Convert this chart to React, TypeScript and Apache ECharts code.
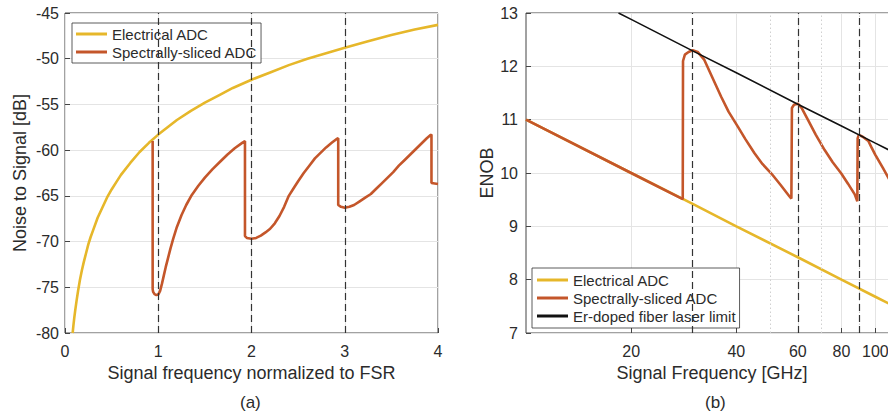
import React, { useEffect, useRef } from 'react';
import * as echarts from 'echarts';

// ---------- Panel (a): noise to signal vs normalized frequency ----------
const electricalA: [number, number][] = [
  [0.082, -80.0], [0.09, -79.2], [0.1, -78.3], [0.11, -77.5], [0.125, -76.4], [0.14, -75.4],
  [0.16, -74.2], [0.18, -73.2], [0.2, -72.3], [0.225, -71.3], [0.25, -70.3], [0.275, -69.5],
  [0.3, -68.8], [0.35, -67.4], [0.4, -66.3], [0.45, -65.2], [0.5, -64.3], [0.55, -63.5],
  [0.6, -62.7], [0.7, -61.4], [0.8, -60.2], [0.9, -59.2], [1.0, -58.3], [1.1, -57.5],
  [1.2, -56.7], [1.35, -55.7], [1.5, -54.8], [1.65, -54.0], [1.8, -53.2], [2.0, -52.3],
  [2.2, -51.5], [2.4, -50.7], [2.6, -50.0], [2.8, -49.4], [3.0, -48.8], [3.25, -48.1],
  [3.5, -47.4], [3.75, -46.8], [4.0, -46.3],
];
const slicedA: [number, number][] = [
  [0.94, -59.0], [0.94, -75.2], [0.945, -75.5], [0.96, -75.75], [0.98, -75.85], [1.0, -75.8],
  [1.02, -75.4], [1.04, -74.6], [1.06, -73.7], [1.08, -72.8], [1.10, -72.0], [1.13, -70.8],
  [1.16, -69.7], [1.20, -68.4], [1.25, -67.1], [1.30, -66.0], [1.36, -64.9], [1.43, -63.9],
  [1.50, -63.0], [1.58, -62.1], [1.66, -61.3], [1.74, -60.5], [1.82, -59.8], [1.90, -59.2],
  [1.93, -59.0], [1.93, -69.4], [1.95, -69.6], [2.0, -69.7], [2.05, -69.6], [2.10, -69.35],
  [2.15, -69.0], [2.20, -68.6], [2.25, -68.0], [2.30, -67.2], [2.35, -66.2], [2.40, -65.0],
  [2.45, -64.2], [2.50, -63.4], [2.56, -62.5], [2.62, -61.7], [2.68, -60.9], [2.74, -60.3],
  [2.80, -59.7], [2.86, -59.2], [2.91, -58.8], [2.93, -58.7], [2.93, -66.0], [2.96, -66.2],
  [3.0, -66.3], [3.05, -66.2], [3.10, -66.0], [3.16, -65.6], [3.22, -65.2], [3.28, -64.8],
  [3.34, -64.2], [3.40, -63.6], [3.46, -63.0], [3.52, -62.4], [3.58, -61.7], [3.64, -61.1],
  [3.70, -60.5], [3.76, -59.9], [3.82, -59.3], [3.88, -58.7], [3.92, -58.35], [3.93, -58.3],
  [3.93, -63.6], [4.0, -63.7],
];
const fsrMarksA = [1, 2, 3];

// ---------- Panel (b): ENOB vs signal frequency (GHz, log) ----------
const electricalB: [number, number][] = [
  [10, 11.0], [20, 10.0], [30, 9.42], [40, 9.0], [60, 8.42], [80, 8.0], [100, 7.68], [120, 7.42], [133, 7.27],
];
const slicedB: [number, number][] = [
  [10, 11.0], [20, 10.0], [28.1, 9.51], [28.15, 12.1], [28.5, 12.22], [29.2, 12.27],
  [30, 12.3], [31, 12.27], [32.4, 12.12], [34, 11.82], [36.2, 11.43], [38, 11.15],
  [40.4, 10.87], [42.5, 10.63], [45.1, 10.37], [47.5, 10.17], [50.4, 9.99], [53.5, 9.78],
  [56.8, 9.56], [57.5, 9.52], [57.7, 11.22], [58.5, 11.28], [60, 11.3], [61.5, 11.22],
  [64.2, 10.99], [67.5, 10.72], [71.6, 10.43], [75.5, 10.2], [79.9, 9.99], [83.5, 9.8],
  [87.3, 9.6], [88.8, 9.47], [89, 10.65], [89.5, 10.7], [90, 10.71], [92, 10.68],
  [95.5, 10.6], [97.5, 10.48], [100, 10.34], [105, 10.1], [109.8, 9.87], [115, 9.6], [120, 9.35],
];
const laserLimitB: [number, number][] = [
  [18.4, 13.0], [20, 12.88], [30, 12.29], [40, 11.88], [60, 11.29], [80, 10.88], [100, 10.56], [120, 10.3], [133, 10.15],
];
const fsrMarksB = [30, 60, 90];
const freqTickLabels = [20, 40, 60, 80, 100];
const freqMinorGrid = [50, 70, 90];

const names = ['Electrical ADC', 'Spectrally-sliced ADC', 'Er-doped fiber laser limit'];
const FONT = '"Liberation Sans", Arial, Helvetica, sans-serif';
const YELLOW = '#E6B72A';
const ORANGE = '#C4562A';
const TXT = '#2b2b2b';

export default function App() {
  const ref = useRef<HTMLDivElement>(null);
  useEffect(() => {
    if (!ref.current) return;
    const chart = echarts.init(ref.current, undefined, { renderer: 'svg' });
    const axisLabel = { color: TXT, fontSize: 16, fontFamily: FONT };
    const nameStyle = { color: TXT, fontSize: 18, fontFamily: FONT };
    const splitLine = { show: true, lineStyle: { color: '#e4e4e4', width: 1 } };
    const axisTick = { show: true, inside: true, length: 5, lineStyle: { color: '#444' } };
    const dashLine = (xIdx: number, vals: number[]) => ({
      type: 'line', xAxisIndex: xIdx, yAxisIndex: xIdx, data: [], z: 1, silent: true,
      markLine: {
        silent: true, symbol: ['none', 'none'], label: { show: false },
        lineStyle: { type: [7, 4], color: '#333', width: 1.2 },
        emphasis: { disabled: true },
        data: vals.map((v) => ({ xAxis: v })),
      },
    });
    const legendBase = {
      orient: 'vertical', itemWidth: 31, itemHeight: 3, itemGap: 2, icon: 'rect',
      backgroundColor: '#fff', borderColor: '#333', borderWidth: 0.8, borderRadius: 0,
      textStyle: { color: TXT, fontSize: 15, fontFamily: FONT, lineHeight: 16 },
      selectedMode: false,
    };
    chart.setOption({
      animation: false,
      textStyle: { fontFamily: FONT },
      grid: [
        { left: 65, top: 13, width: 373, height: 320, show: true, borderColor: '#444', borderWidth: 1, backgroundColor: 'transparent', outerBoundsMode: 'none' },
        { left: 526, top: 13, width: 393, height: 320, show: true, borderColor: '#444', borderWidth: 1, backgroundColor: 'transparent', outerBoundsMode: 'none' },
      ],
      legend: [
        { ...legendBase, left: 72, top: 23, padding: [3, 4, 3, 4], data: names.slice(0, 2) },
        { ...legendBase, left: 532, top: 268, padding: [4, 4, 4, 5], data: names },
      ],
      xAxis: [
        {
          type: 'value', gridIndex: 0, min: 0, max: 4, interval: 1,
          name: 'Signal frequency normalized to FSR', nameLocation: 'middle', nameGap: 29, nameTextStyle: nameStyle,
          axisLine: { show: false }, axisTick, axisLabel: { ...axisLabel, margin: 10 }, splitLine,
        },
        {
          type: 'log', logBase: 10, gridIndex: 1, min: 10, max: 133.35,
          name: 'Signal Frequency [GHz]', nameLocation: 'middle', nameGap: 29,
          nameTextStyle: { ...nameStyle, padding: [0, 21, 0, 0] },
          axisLine: { show: false },
          axisTick: { ...axisTick, customValues: freqTickLabels },
          axisLabel: { ...axisLabel, margin: 10, customValues: freqTickLabels, formatter: (v: number) => String(Math.round(v)) },
          splitLine, minorTick: { show: false }, minorSplitLine: { show: false },
        },
      ],
      yAxis: [
        {
          type: 'value', gridIndex: 0, min: -80, max: -45, interval: 5,
          name: 'Noise to Signal [dB]', nameLocation: 'middle', nameGap: 36, nameTextStyle: nameStyle,
          axisLine: { show: false }, axisTick, axisLabel: { ...axisLabel, margin: 6 }, splitLine,
        },
        {
          type: 'value', gridIndex: 1, min: 7, max: 13, interval: 1,
          name: 'ENOB', nameLocation: 'middle', nameGap: 30, nameTextStyle: nameStyle,
          axisLine: { show: false }, axisTick, axisLabel: { ...axisLabel, margin: 8 }, splitLine,
        },
      ],
      series: [
        dashLine(0, fsrMarksA),
        {
          type: 'line', xAxisIndex: 1, yAxisIndex: 1, data: [], z: 1, silent: true,
          markLine: {
            silent: true, symbol: ['none', 'none'], label: { show: false },
            lineStyle: { type: [1.5, 2.5], color: '#d0d0d0', width: 1 },
            emphasis: { disabled: true },
            data: freqMinorGrid.map((v) => ({ xAxis: v })),
          },
        },
        dashLine(1, fsrMarksB),
        {
          name: names[0], type: 'line', xAxisIndex: 0, yAxisIndex: 0, data: electricalA,
          symbol: 'none', lineStyle: { color: YELLOW, width: 2.6 }, itemStyle: { color: YELLOW }, z: 3,
        },
        {
          name: names[1], type: 'line', xAxisIndex: 0, yAxisIndex: 0, data: slicedA,
          symbol: 'none', lineStyle: { color: ORANGE, width: 2.6 }, itemStyle: { color: ORANGE }, z: 4,
        },
        {
          name: names[0], type: 'line', xAxisIndex: 1, yAxisIndex: 1, data: electricalB,
          symbol: 'none', lineStyle: { color: YELLOW, width: 2.6 }, itemStyle: { color: YELLOW }, z: 3,
        },
        {
          name: names[1], type: 'line', xAxisIndex: 1, yAxisIndex: 1, data: slicedB,
          symbol: 'none', lineStyle: { color: ORANGE, width: 2.6 }, itemStyle: { color: ORANGE }, z: 4,
        },
        {
          name: names[2], type: 'line', xAxisIndex: 1, yAxisIndex: 1, data: laserLimitB,
          symbol: 'none', lineStyle: { color: '#111', width: 1.6 }, itemStyle: { color: '#111' }, z: 5,
        },
      ],
      graphic: [
        { type: 'text', left: 252 - 12, top: 394, style: { text: '(a)', fontSize: 17, fontFamily: FONT, fill: TXT } },
        { type: 'text', left: 717 - 12, top: 394, style: { text: '(b)', fontSize: 17, fontFamily: FONT, fill: TXT } },
      ],
    });
    return () => chart.dispose();
  }, []);
  return (
    <div style={{ position: 'fixed', left: 0, top: 0, width: 888, height: 419, overflow: 'hidden', background: '#fff' }}>
      <div ref={ref} style={{ width: 888, height: 419 }} />
    </div>
  );
}
